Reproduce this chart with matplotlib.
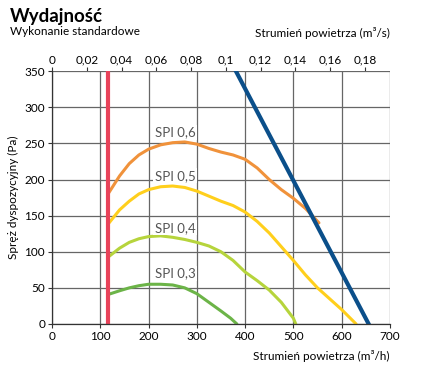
import numpy as np
import matplotlib.pyplot as plt

plt.rcParams['font.family'] = ['Lato', 'DejaVu Sans']

# Flow (m3/h) and pressure (Pa)
spi06_q = [117, 140, 160, 180, 200, 225, 250, 275, 300, 325, 350, 375, 400, 425, 450, 475, 500, 525, 553]
spi06_p = [181, 205, 222, 234, 242, 248, 251, 252, 249, 243, 238, 234, 228, 216, 200, 186, 174, 160, 140]
spi05_q = [117, 140, 160, 180, 200, 225, 250, 275, 300, 325, 350, 375, 400, 425, 450, 475, 500, 525, 550, 575, 600, 615, 630]
spi05_p = [139, 158, 170, 180, 186, 190, 191, 189, 184, 177, 170, 164, 155, 142, 126, 107, 88, 68, 50, 35, 20, 10, 0]
spi04_q = [117, 140, 160, 180, 200, 225, 250, 275, 300, 325, 350, 375, 400, 425, 450, 475, 500, 505]
spi04_p = [93, 105, 113, 118, 121, 122, 120, 117, 113, 108, 100, 88, 72, 60, 47, 30, 8, 0]
spi03_q = [117, 140, 160, 180, 200, 225, 250, 275, 300, 325, 350, 370, 383]
spi03_p = [41, 46, 50, 53, 55, 55, 54, 50, 42, 30, 18, 8, 0]
max_q = [381, 656]
max_p = [350, 0]
min_q = [116, 116]
min_p = [0, 350]

spi_labels = ['SPI 0,6', 'SPI 0,5', 'SPI 0,4', 'SPI 0,3']
label_q = [255, 255, 255, 255]
label_p = [265, 205, 133, 70]
top_ticks = [0, 0.02, 0.04, 0.06, 0.08, 0.1, 0.12, 0.14, 0.16, 0.18]

fig = plt.figure(figsize=(4.25, 3.68), dpi=100)
ax = fig.add_axes([0.1224, 0.1196, 0.795, 0.687])

ax.set_xlim(0, 700)
ax.set_ylim(0, 350)
ax.set_xticks(range(0, 701, 100))
ax.set_yticks(range(0, 351, 50))
ax.grid(True, color='#666666', linewidth=0.9)
ax.set_axisbelow(True)
for s in ['top', 'right']:
    ax.spines[s].set_visible(False)
for s in ['left', 'bottom']:
    ax.spines[s].set_color('#333333')
    ax.spines[s].set_linewidth(0.9)
ax.tick_params(length=3, width=0.8, color='#333333', labelsize=8.5, pad=2)

ax.plot(spi06_q, spi06_p, color='#F0923B', lw=2.2, solid_capstyle='round', solid_joinstyle='round')
ax.plot(spi05_q, spi05_p, color='#FFCF1C', lw=2.2, solid_capstyle='round', solid_joinstyle='round')
ax.plot(spi04_q, spi04_p, color='#B6D43C', lw=2.2, solid_capstyle='round', solid_joinstyle='round')
ax.plot(spi03_q, spi03_p, color='#6CB448', lw=2.2, solid_capstyle='round', solid_joinstyle='round')
ax.plot(max_q, max_p, color='#0B4F8A', lw=3)
ax.plot(min_q, min_p, color='#E8435A', lw=3)

for t, q, p in zip(spi_labels, label_q, label_p):
    ax.text(q, p, t, ha='center', va='center', fontsize=9.5, color='#555555',
            bbox=dict(facecolor='white', edgecolor='none', pad=1.0))

ax.set_ylabel('Spręż dyspozycyjny (Pa)', fontsize=8.5, labelpad=4)

top = ax.secondary_xaxis('top', functions=(lambda q: q / 3600, lambda s: s * 3600))
top.set_xticks(top_ticks)
top.set_xticklabels([('%g' % v).replace('.', ',') for v in top_ticks])
top.tick_params(length=3, width=0.8, color='#333333', labelsize=8.5, pad=1)
top.spines['top'].set_visible(False)

fig.text(0.023, 0.955, 'Wydajność', fontsize=13.5, fontweight='bold', va='center')
fig.text(0.023, 0.914, 'Wykonanie standardowe', fontsize=8.5, va='center')
fig.text(0.917, 0.910, 'Strumień powietrza (m³/s)', fontsize=8.5, va='center', ha='right')
fig.text(0.917, 0.033, 'Strumień powietrza (m³/h)', fontsize=8.5, va='center', ha='right')

fig.savefig('out.png', dpi=100)
